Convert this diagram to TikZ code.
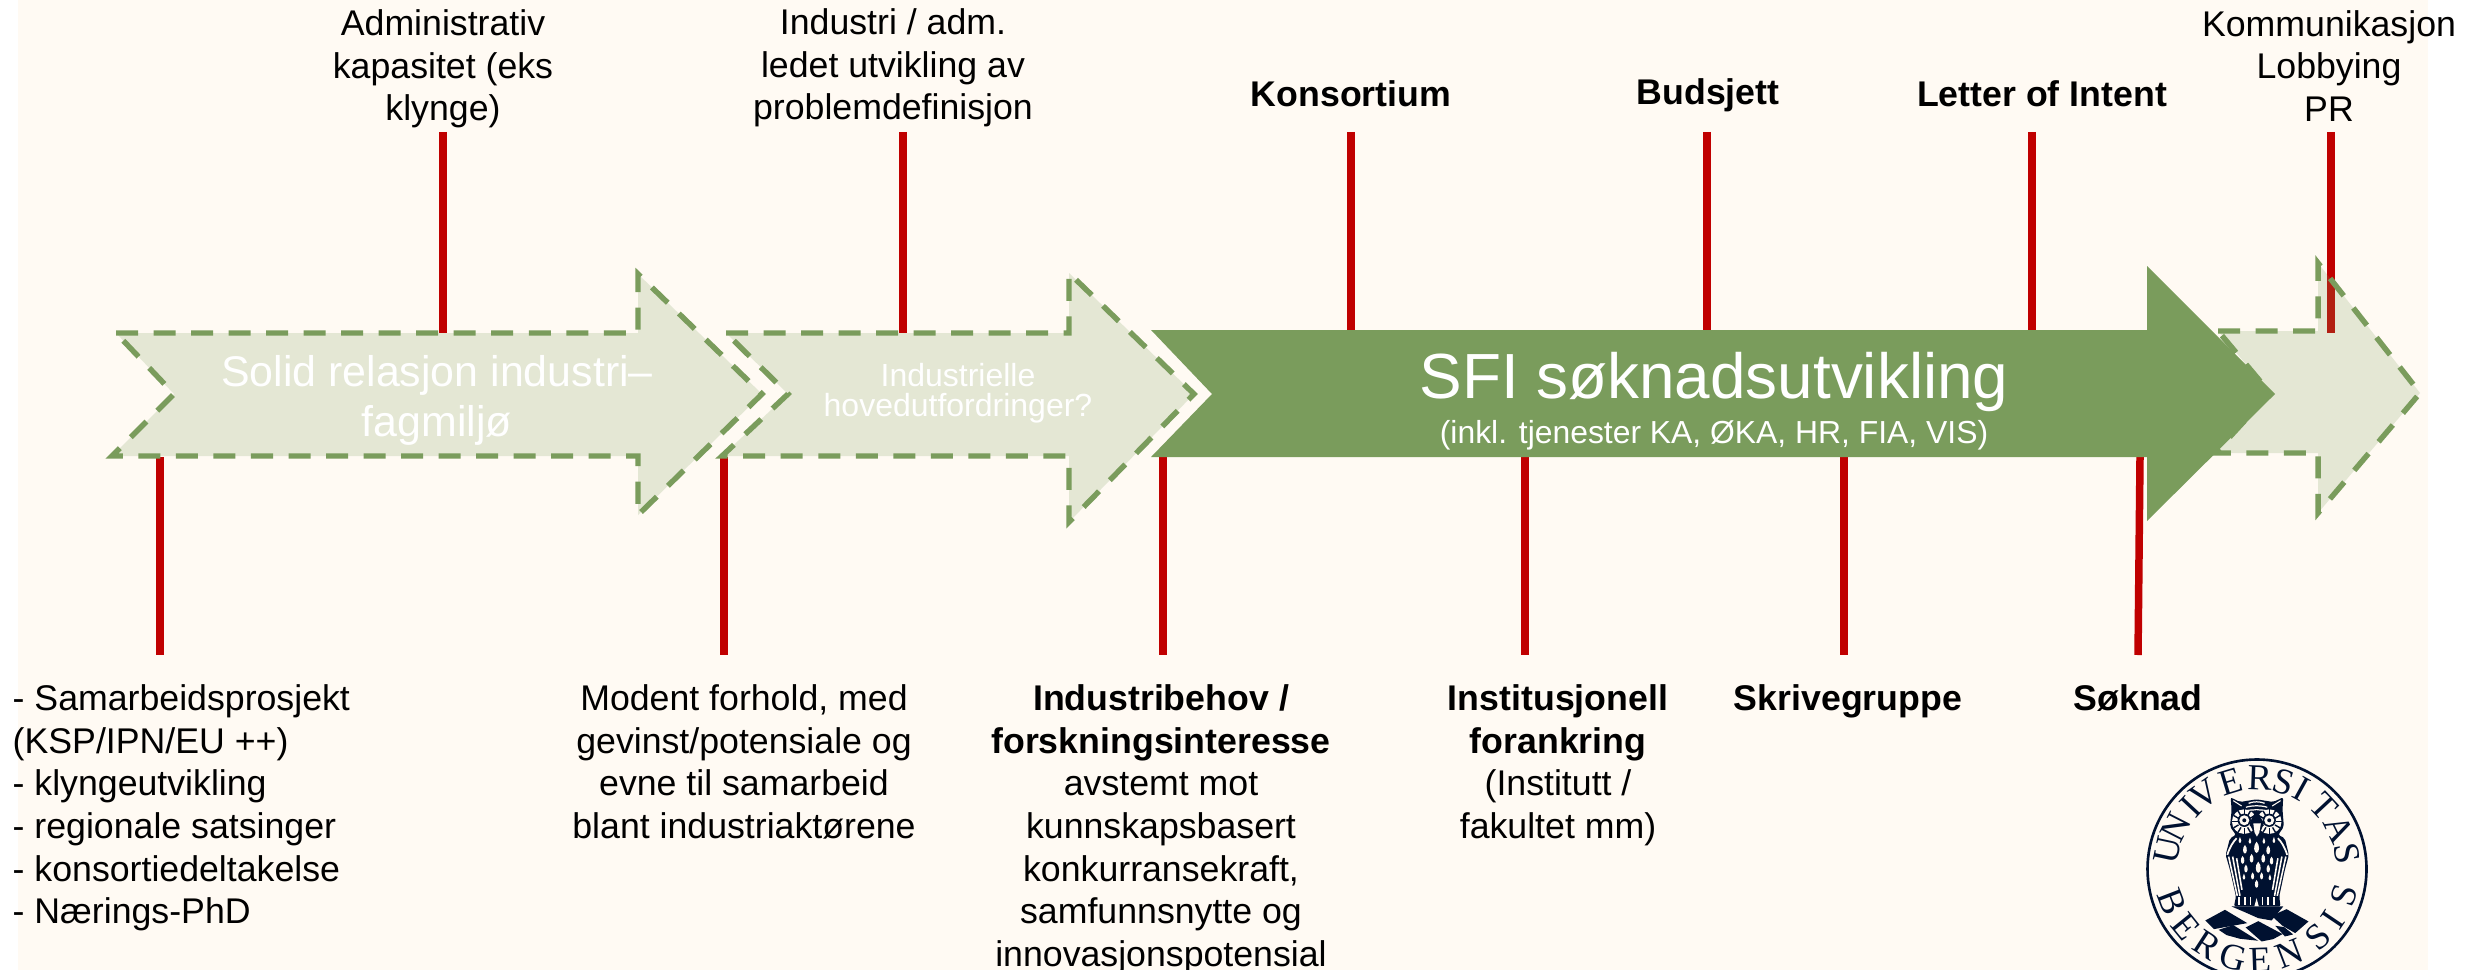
\documentclass[tikz,border=0pt]{standalone}
\usepackage{fontspec}
\usetikzlibrary{calc}
\setmainfont{Liberation Sans}
\newfontfamily\serifseal{Liberation Serif}
\definecolor{paper}{HTML}{FFFAF3}
\definecolor{leaf}{HTML}{7A9C5C}
\definecolor{mark}{HTML}{C00000}
\definecolor{ink}{HTML}{001130}
\newcommand{\bodyfont}{\fontsize{10.15}{12.13}\selectfont}
\tikzset{
  softarrow/.style={draw=leaf,fill=leaf,fill opacity=.2,line width=1.55pt,dash pattern=on 6.26pt off 4.41pt},
  solidarrow/.style={fill=leaf},
  redline/.style={draw=mark,line width=2.13pt},
  label/.style={inner sep=0pt,align=center,font=\bodyfont,text=black},
  labelb/.style={label,font=\bodyfont\bfseries},
  seal/.style={inner sep=0pt,text=ink,font=\serifseal\fontsize{10.4}{11}\selectfont},
}
\begin{document}
\begin{tikzpicture}[x=0.01cm,y=-0.01cm]
\clip (0,0) rectangle (2470,970);
\fill[paper] (18,0) rectangle (2428,970);

% free ends of the red lines
\foreach \n/\x in {ta/443,tb/903,tc/1351,td/1707,te/2032,tf/2331}{
  \coordinate (\n1) at (\x,132);
  \coordinate (\n2) at (\x,333);
}
\foreach \n/\x in {ba/160,bb/724,bc/1163,bd/1525,be/1844}{
  \coordinate (\n1) at (\x,457);
  \coordinate (\n2) at (\x,655);
}
\coordinate (bf1) at (2140,457);
\coordinate (bf2) at (2138,655);
\foreach \n in {ta,tb,tc,td,te,tf,ba,bb,bc,bd,be,bf}{
  \draw[redline] (\n1) -- (\n2);
}

% arrows
\path[softarrow] (116,333) -- (638,333) -- (638,274) -- (762,394) -- (638,515) -- (638,456) -- (112,456) -- (174,394) -- cycle;
\path[softarrow] (726,333) -- (1069,333) -- (1069,273) -- (1194,394) -- (1069,522) -- (1069,456) -- (722,456) -- (788,394) -- cycle;
\path[solidarrow] (1151,330) -- (2147,330) -- (2147,266) -- (2275,394) -- (2147,521) -- (2147,457) -- (1151,457) -- (1212,394) -- cycle;
\path[softarrow] (2218,331) -- (2318,331) -- (2318,263) -- (2420,393) -- (2318,513) -- (2318,453) -- (2215,453) -- (2270,393) -- cycle;

% arrow texts
\node[inner sep=0pt,align=center,text=white,font=\fontsize{12.2}{14.2}\selectfont] (a1) at (437,400) {Solid relasjon industri–\\fagmiljø};
\node[inner sep=0pt,align=center,text=white,font=\fontsize{9.1}{8.6}\selectfont] (a2) at (958,393) {Industrielle\\hovedutfordringer?};
\node[inner sep=0pt,text=white,anchor=base,font=\fontsize{18.15}{21}\selectfont] (a3) at (1714,398) {SFI søknadsutvikling};
\node[inner sep=0pt,text=white,anchor=base,font=\fontsize{9.06}{10}\selectfont] (a4) at (1714,443) {(inkl. tjenester KA, ØKA, HR, FIA, VIS)};

% top labels
\node[label] (t1) at (443,69) {Administrativ\\kapasitet (eks\\klynge)};
\node[label] (t2) at (893,68) {Industri / adm.\\ledet utvikling av\\problemdefinisjon};
\node[labelb] (t3) at (1351,94) {Konsortium};
\node[labelb] (t4) at (1708,95) {Budsjett};
\node[labelb] (t5) at (2042,94) {Letter of Intent};
\node[label] (t6) at (2329,66) {Kommunikasjon\\Lobbying\\PR};

% bottom labels
\node[label,align=left,anchor=north west] (b1) at (12,684) {- Samarbeidsprosjekt\\(KSP/IPN/EU ++)\\- klyngeutvikling\\- regionale satsinger\\- konsortiedeltakelse\\- Nærings-PhD};
\node[label,anchor=north] (b2) at (744,684) {Modent forhold, med\\gevinst/potensiale og\\evne til samarbeid\\blant industriaktørene};
\node[label,anchor=north] (b3) at (1161,684) {\textbf{Industribehov /}\\\textbf{forskningsinteresse}\\avstemt mot\\kunnskapsbasert\\konkurransekraft,\\samfunnsnytte og\\innovasjonspotensial};
\node[label,anchor=north] (b4) at (1558,684) {\textbf{Institusjonell}\\\textbf{forankring}\\(Institutt /\\fakultet mm)};
\node[labelb,anchor=north] (b5) at (1848,684) {Skrivegruppe};
\node[labelb,anchor=north] (b6) at (2138,684) {Søknad};

% seal
\coordinate (sc) at (2257,869);
\draw[ink,line width=.75pt] (sc) circle (109.5);
\foreach \c/\a [count=\i] in {U/168,N/153,I/137,V/125,E/107,R/88,S/73,I/61,T/43,A/26,S/10}{
  \pgfmathsetmacro{\r}{\a-90}
  \node[seal,rotate=\r] (su\i) at ($(sc)+(\a:91 and -91)$) {\c};
}
\foreach \c/\a [count=\i] in {B/201,E/219,R/237,G/255,E/272,N/291,S/312,I/326,S/343}{
  \pgfmathsetmacro{\r}{\a+90}
  \node[seal,rotate=\r] (sb\i) at ($(sc)+(\a:91 and -91)$) {\c};
}
\begin{scope}[shift={(2190,790)},x=0.003333cm,y=-0.003333cm]
  % owl silhouette
  \fill[ink,rounded corners=.6pt] (122,22) -- (150,36) -- (200,28) -- (250,36) -- (280,22) -- (278,60) -- (282,110) -- (265,135) -- (285,145) -- (297,195) -- (285,240) -- (268,320) -- (272,350) -- (132,350) -- (138,320) -- (120,240) -- (107,195) -- (120,145) -- (138,135) -- (120,110) -- (125,60) -- cycle;
  % ears and forehead
  \draw[paper,line width=.3pt] (130,32) -- (155,48) (272,32) -- (247,48);
  \foreach \y/\w in {40/24,52/32,64/38}{
    \draw[paper,line width=.35pt] (200-\w,\y) .. controls (200-\w/2,\y-6) and (200+\w/2,\y-6) .. (200+\w,\y);
  }
  % facial discs
  \foreach \x in {163,238}{
    \fill[paper] (\x,95) circle (37);
    \foreach \a in {0,30,...,330}{
      \draw[ink,line width=.4pt] (\x,95) ++(\a:20) -- ++(\a:17);
    }
    \fill[ink] (\x,91) circle (20);
    \fill[paper] (\x,91) circle (15);
    \fill[ink] (\x,91) circle (6);
  }
  \fill[ink] (200,60) -- (222,100) -- (202,150) -- (178,100) -- cycle;
  \fill[paper] (190,100) -- (213,100) -- (208,128) -- (201,140) -- (194,128) -- cycle;
  % breast feathers
  \foreach \x/\y/\s in {150/150/.7,180/152/.7,222/152/.7,252/150/.7,165/178/1,200/172/1.3,235/180/1,158/210/.9,185/205/1,220/205/1,245/212/.9,168/236/.9,205/232/1.3,235/236/.9,162/260/.7,188/258/.8,215/258/.8,240/262/.7,200/282/.9}{
    \fill[paper,shift={(\x,\y)},scale=\s] (0,-13) .. controls (9,-4) and (6,13) .. (0,13) .. controls (-6,13) and (-9,-4) .. (0,-13);
  }
  % wings
  \draw[paper,line width=.45pt] (116,200) -- (142,318) (128,200) -- (150,318) (140,205) -- (156,300);
  \draw[paper,line width=.45pt] (288,200) -- (262,318) (276,200) -- (254,318) (264,205) -- (248,300);
  \draw[paper,line width=.5pt] (112,195) .. controls (120,170) and (130,155) .. (140,145);
  \draw[paper,line width=.5pt] (292,195) .. controls (284,170) and (274,155) .. (264,145);
  % feet
  \fill[paper] (200,325) -- (210,362) -- (190,362) -- cycle;
  \foreach \x in {148,165,182,218,235,252}{
    \draw[paper,line width=.45pt] (\x,322) -- (\x,346);
  }
  % rock and hills
  \fill[ink] (125,350) -- (280,350) -- (245,392) -- (205,385) -- (160,365) -- cycle;
  \fill[ink] (46,392) -- (105,360) -- (172,400) -- (72,418) -- cycle;
  \fill[ink] (245,378) -- (290,358) -- (356,395) -- (316,430) -- (278,408) -- cycle;
  \fill[ink] (86,420) -- (130,406) -- (205,453) -- (150,447) -- (110,436) -- cycle;
  \fill[ink] (167,413) -- (205,394) -- (278,433) -- (250,448) -- (215,455) -- cycle;
  \fill[ink] (256,408) -- (283,412) -- (310,434) -- (285,440) -- cycle;
\end{scope}
\end{tikzpicture}
\end{document}
